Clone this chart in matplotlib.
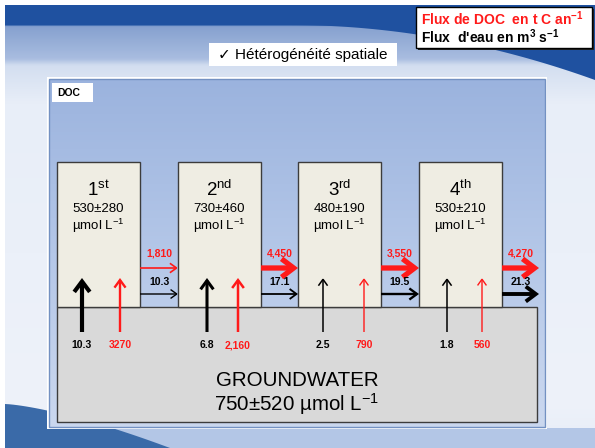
#!/usr/bin/env python3
"""DOC and water fluxes along four stream reaches fed by groundwater (slide redraw)."""
import matplotlib

matplotlib.use("Agg")
import matplotlib.pyplot as plt
import numpy as np
from matplotlib.colors import LinearSegmentedColormap
from matplotlib.patches import Polygon, Rectangle

# --- data ---
reach_num = ["1", "2", "3", "4"]
reach_suffix = ["st", "nd", "rd", "th"]
doc_mean = [530, 730, 480, 530]  # umol/L
doc_sd = [280, 460, 190, 210]
gw_water = ["10.3", "6.8", "2.5", "1.8"]  # m3/s from groundwater
gw_doc = ["3270", "2,160", "790", "560"]  # t C/yr from groundwater
out_water = ["10.3", "17.1", "19.5", "21.3"]  # m3/s leaving each reach
out_doc = ["1,810", "4,450", "3,550", "4,270"]  # t C/yr leaving each reach
gw_mean, gw_sd = 750, 520

# --- arrow line widths (pt) ---
gw_water_lw = [3.0, 2.2, 1.1, 1.1]
gw_doc_lw = [1.7, 1.8, 1.0, 1.0]
out_water_lw = [1.0, 1.3, 1.7, 2.8]
out_doc_lw = [1.2, 3.8, 3.8, 3.8]

# --- layout, in pixels (y down) ---
W, H = 595, 448
box_x = [57, 178, 298, 419]
box_w = 83
box_top, box_bot = 162, 307
v_black_x = [82, 207, 323, 447]
v_red_x = [120, 238, 364, 482]
v_tail, v_tip = 332, 278
h_red_y, h_black_y = 268, 294
out_end = 539

RED = "#ff1a1a"
SANS = ["Liberation Sans", "DejaVu Sans"]

plt.rcParams["font.family"] = SANS
plt.rcParams["mathtext.fontset"] = "custom"
plt.rcParams["mathtext.rm"] = "Liberation Sans"
plt.rcParams["mathtext.it"] = "Liberation Sans"
plt.rcParams["mathtext.bf"] = "Liberation Sans:bold"


def vgrad(ax, x0, x1, y0, y1, colors, z):
    cmap = LinearSegmentedColormap.from_list("g", colors)
    ax.imshow(np.linspace(0, 1, 256)[:, None], cmap=cmap, aspect="auto",
              extent=[x0, x1, y1, y0], origin="upper", zorder=z, interpolation="bilinear")


def arrow(ax, x0, y0, x1, y1, color, lw):
    hl = 0.3 + 0.15 * lw
    hw = 0.2 + 0.12 * lw
    ax.annotate("", xy=(x1, y1), xytext=(x0, y0),
                arrowprops=dict(arrowstyle=f"->,head_length={hl:.2f},head_width={hw:.2f}",
                                color=color, lw=lw, shrinkA=0, shrinkB=0,
                                joinstyle="miter", capstyle="butt"),
                zorder=6)


fig = plt.figure(figsize=(W / 100, H / 100), dpi=100)
ax = fig.add_axes([0, 0, 1, 1])

# slide background
vgrad(ax, 5, W, 5, H, [(0.0, "#1b4c9a"), (0.043, "#2356a4"), (0.047, "#86a1cf"),
                       (0.12, "#a9bde0"), (0.135, "#d3def0"), (0.22, "#e8eef8"),
                       (0.9, "#eef2fa"), (1.0, "#e6ecf7")], 0)
xs = np.linspace(290, W, 60)
top_curve = 25 + 55 * ((xs - 290) / (W - 290)) ** 2
ax.add_patch(Polygon(np.column_stack([np.r_[5, xs, W, 5], np.r_[25, top_curve, 5, 5]]),
                     closed=True, fc="#1f51a0", ec="none", zorder=1))
ax.add_patch(Rectangle((5, 428), W - 5, 20, fc="#b3c6e6", ec="none", zorder=1))
xw = np.linspace(5, 170, 40)
wave = 404 + 44 * ((xw - 5) / 165) ** 1.4
ax.add_patch(Polygon(np.column_stack([np.r_[xw, 5], np.r_[wave, H]]),
                     closed=True, fc="#3a6aa8", ec="none", zorder=1))

# DOC panel
ax.add_patch(Rectangle((47, 77), 500, 352, fc="white", ec="none", zorder=2))
vgrad(ax, 49, 545, 79, 427, ["#9bb3de", "#b4c7e8", "#cbd8ef"], 3)
ax.add_patch(Rectangle((49, 79), 496, 348, fc="none", ec="#7391c2", lw=1.0, zorder=3))
ax.add_patch(Rectangle((52, 83), 41, 19, fc="white", ec="none", zorder=4))
ax.text(57, 93, "DOC", fontsize=7.5, fontweight="bold", va="center", ha="left", zorder=5)

# title and legend boxes
ax.add_patch(Rectangle((209, 43), 188, 23, fc="white", ec="none", zorder=4))
ax.text(303, 55, "\u2713 H\u00e9t\u00e9rog\u00e9n\u00e9it\u00e9 spatiale", fontsize=11,
        ha="center", va="center", zorder=5)
ax.add_patch(Rectangle((418, 9), 176, 41, fc="#222222", ec="none", zorder=4))
ax.add_patch(Rectangle((416, 7), 176, 41, fc="white", ec="black", lw=1.0, zorder=4))
ax.text(421, 19, r"Flux de DOC  en t C an$^{\mathbf{-1}}$", color=RED, fontsize=10,
        fontweight="bold", ha="left", va="center", zorder=5)
ax.text(421, 37, r"Flux  d'eau en m$^{\mathbf{3}}$ s$^{\mathbf{-1}}$", color="black",
        fontsize=10, fontweight="bold", ha="left", va="center", zorder=5)

# groundwater block
ax.add_patch(Rectangle((57, box_bot), 480, 422 - box_bot, fc="#d9d9d9", ec="#3c3c3c",
                       lw=1.0, zorder=4))
ax.text(297, 380, "GROUNDWATER", fontsize=14.8, ha="center", va="center", zorder=5)
ax.text(297, 404, f"{gw_mean}\u00b1{gw_sd} \u00b5mol L$^{{\\mathrm{{-1}}}}$", fontsize=14.8,
        ha="center", va="center", zorder=5)

# reaches
for i in range(4):
    x0 = box_x[i]
    cx = x0 + box_w / 2
    ax.add_patch(Rectangle((x0, box_top), box_w, box_bot - box_top, fc="#efede3",
                           ec="#3c3c3c", lw=1.0, zorder=4))
    ax.text(cx, 190, f"{reach_num[i]}$^{{\\mathrm{{{reach_suffix[i]}}}}}$", fontsize=13.5,
            ha="center", va="center", zorder=5)
    ax.text(cx, 209, f"{doc_mean[i]}\u00b1{doc_sd[i]}", fontsize=9.5, ha="center",
            va="center", zorder=5)
    ax.text(cx, 226, "\u00b5mol L$^{\\mathrm{-1}}$", fontsize=9.5, ha="center",
            va="center", zorder=5)

    # groundwater inputs
    arrow(ax, v_black_x[i], v_tail, v_black_x[i], v_tip, "black", gw_water_lw[i])
    arrow(ax, v_red_x[i], v_tail, v_red_x[i], v_tip, RED, gw_doc_lw[i])
    ax.text(v_black_x[i], 345, gw_water[i], fontsize=7.5, fontweight="bold",
            ha="center", va="center", zorder=5)
    ax.text(v_red_x[i], 345, gw_doc[i], fontsize=7.5, fontweight="bold", color=RED,
            ha="center", va="center", zorder=5)

    # downstream outputs
    xa = x0 + box_w
    xb = box_x[i + 1] if i < 3 else out_end
    arrow(ax, xa, h_red_y, xb, h_red_y, RED, out_doc_lw[i])
    arrow(ax, xa, h_black_y, xb, h_black_y, "black", out_water_lw[i])
    ax.text((xa + xb) / 2, 253, out_doc[i], fontsize=7.5, fontweight="bold", color=RED,
            ha="center", va="center", zorder=5)
    ax.text((xa + xb) / 2, 282, out_water[i], fontsize=7.5, fontweight="bold",
            ha="center", va="center", zorder=7)

ax.set_xlim(0, W)
ax.set_ylim(H, 0)
ax.axis("off")
fig.savefig("out.png", dpi=100, facecolor="white")
